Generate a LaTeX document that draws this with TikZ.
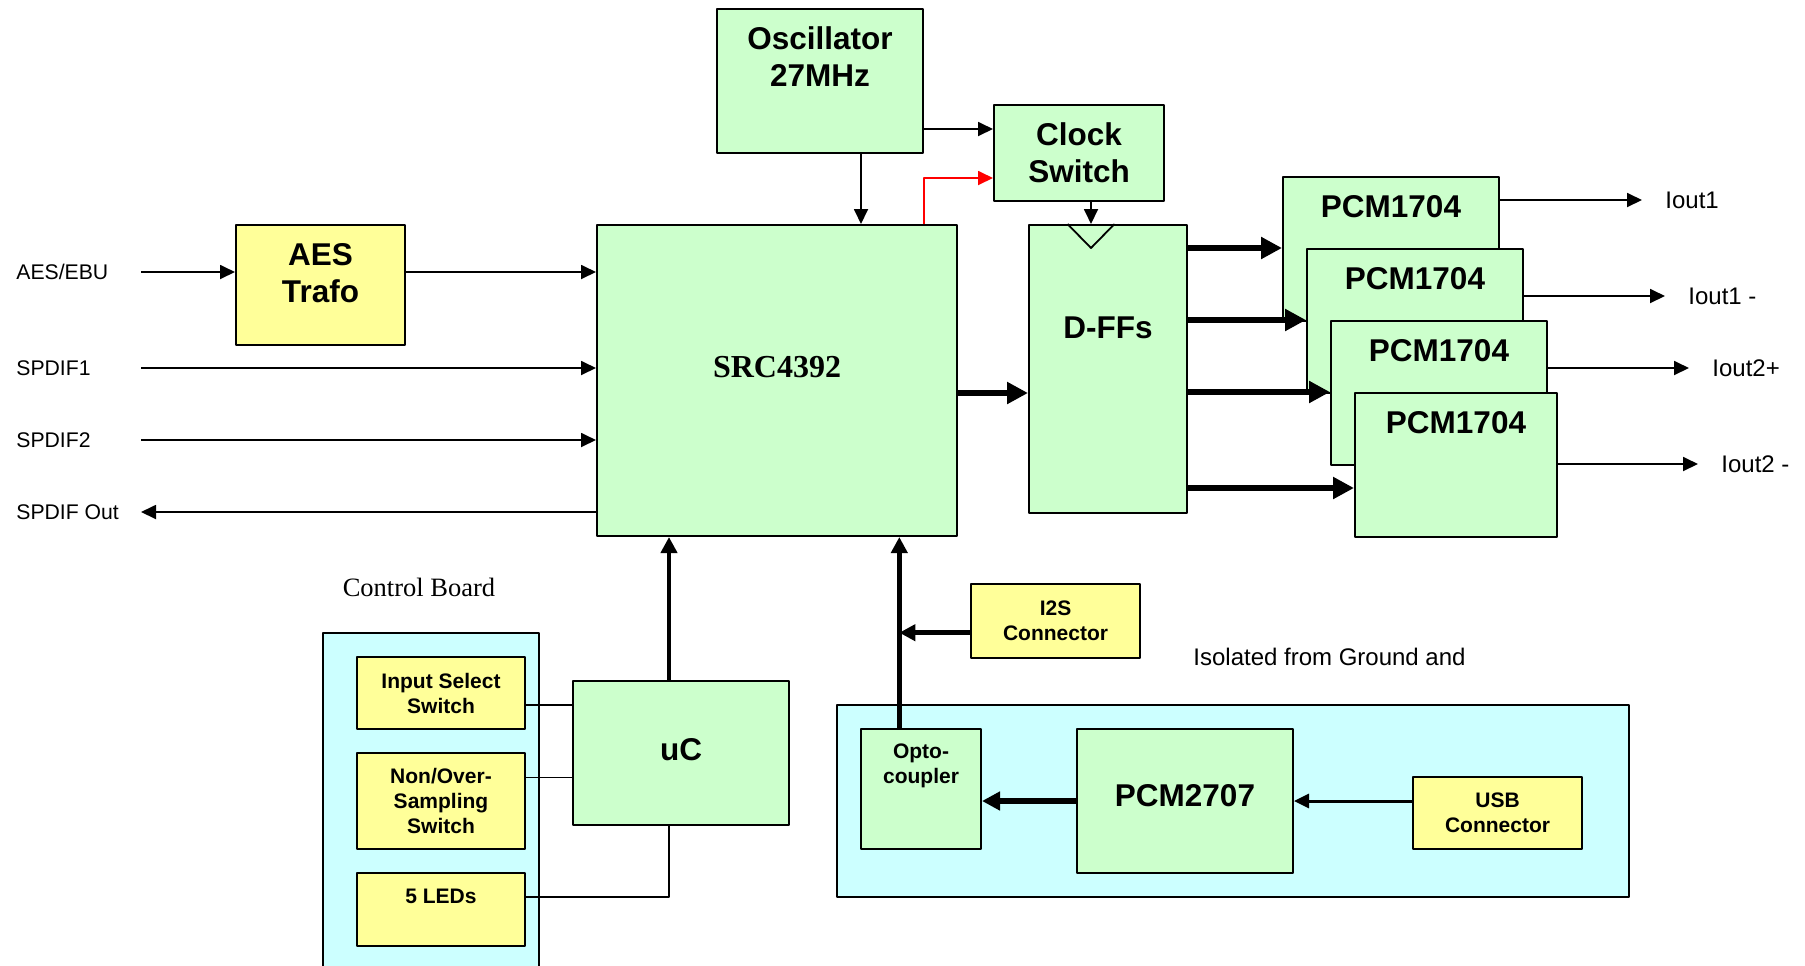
\documentclass[tikz,border=0pt]{standalone}
\usepackage{fontspec}
\setmainfont{Liberation Sans}
\newfontfamily\timesfont{Liberation Serif}
\usetikzlibrary{arrows.meta,positioning}

\definecolor{chipgreen}{HTML}{CCFFCC}
\definecolor{partyellow}{HTML}{FFFF99}
\definecolor{boardcyan}{HTML}{CCFFFF}

\tikzset{
  blk/.style={draw, line width=1pt, inner sep=0pt, anchor=north west},
  chip/.style={blk, fill=chipgreen},
  part/.style={blk, fill=partyellow},
  board/.style={blk, fill=boardcyan},
  wh/.style 2 args={minimum width=#1*0.5pt, minimum height=#2*0.5pt},
  big/.style={font=\bfseries\fontsize{15.75}{18.5}\selectfont, align=center, inner sep=0pt},
  small/.style={font=\bfseries\fontsize{10.5}{12.5}\selectfont, align=center},
  lbl/.style={anchor=west, inner sep=0pt},
  sig/.style={line width=0.9pt, ->},
  wire/.style={line width=0.8pt},
  bus/.style={line width=2.5pt, -{Triangle[length=8pt,width=8pt]}},
  fat/.style={line width=3.3pt, -{Triangle[length=10.5pt,width=10.5pt]}},
}

\begin{document}
\begin{tikzpicture}[
  x=0.5pt,
  y=-0.5pt,
  >={Triangle[length=7.5pt,width=7pt]},
  line join=round,
  font=\fontsize{10.6}{12}\selectfont
]
  \useasboundingbox (0,0) rectangle (1805,965);
  \clip (0,0) rectangle (1805,965);

  % main chain
  \node[part, wh={169}{120}] (aes) at (235,224) {};
  \node[big] (aesT) at ([yshift=5.75pt]aes.center) {AES\\Trafo};
  \node[chip, wh={360}{311}] (src) at (596,224) {};
  \node[font=\timesfont\bfseries\fontsize{16}{18}\selectfont, inner sep=0pt]
    (srcT) at ([yshift=6.75pt]src.center) {SRC4392};
  \node[chip, wh={206}{144}] (osc) at (716,8) {};
  \node[big] (oscT) at ([yshift=12pt]osc.center) {Oscillator\\27MHz};
  \node[chip, wh={170}{96}, big] (clk) at (993,104) {Clock\\Switch};
  \node[chip, wh={158}{288}] (dff) at (1028,224) {};
  \node[big] (dffT) at ([yshift=20.6pt]dff.center) {D-FFs};

  \foreach \i/\xx/\yy/\ww in {1/1282/176/216, 2/1306/248/216,
                               3/1330/320/216, 4/1354/392/202} {
    \node[chip, wh={\ww}{144}] (pcm\i) at (\xx,\yy) {};
    \node[big] (pcmT\i) at ([yshift=21pt]pcm\i.center) {PCM1704};
  }

  % inputs on the left
  \node[lbl] (aesin) at (16,272) {AES/EBU};
  \node[lbl] (sp1) at (16,368) {SPDIF1};
  \node[lbl] (sp2) at (16,440) {SPDIF2};
  \node[lbl] (spo) at (16,512) {SPDIF Out};
  \coordinate (in1) at (141,272);
  \coordinate (in2) at (141,368);
  \coordinate (in3) at (141,440);
  \coordinate (out0) at (141,512);
  \draw[sig] (in1) -- (in1 -| aes.west);
  \draw[sig] (in1 -| aes.east) -- (in1 -| src.west);
  \draw[sig] (in2) -- (in2 -| src.west);
  \draw[sig] (in3) -- (in3 -| src.west);
  \draw[sig] (out0 -| src.west) -- (out0);

  % clock
  \coordinate (ca) at ([yshift=12pt]clk.west);
  \coordinate (cb) at ([yshift=-12.5pt]clk.west);
  \coordinate (oa) at ([xshift=20.5pt]osc.south);
  \coordinate (ck) at ([xshift=-8.5pt]dff.north);
  \draw[sig] (ca -| osc.east) -- (ca);
  \draw[sig, red] (src.north -| osc.east) |- (cb);
  \draw[sig] (oa) -- (oa |- src.north);
  \draw[sig] (clk.south -| ck) -- (ck);
  \draw[line width=0.9pt] ([xshift=-11.75pt]ck) -- ([yshift=-12pt]ck)
    -- ([xshift=11.75pt]ck);

  % data to the DACs
  \coordinate (sd) at ([yshift=-6.25pt]src.east);
  \draw[fat] (sd) -- (sd -| dff.west);
  \foreach \i/\yy in {1/248, 2/320, 3/392, 4/488} {
    \coordinate (d\i) at (1186,\yy);
    \draw[fat] (d\i) -- (d\i -| pcm\i.west);
  }
  \foreach \i/\lx/\yy/\txt in {1/1665/200/Iout1, 2/1688/296/{Iout1 -},
                                3/1712/368/Iout2+, 4/1721/464/{Iout2 -}} {
    \node[lbl, font=\fontsize{12}{14}\selectfont] (out\i) at (\lx,\yy) {\txt};
    \draw[sig] (pcm\i.east |- out\i) -- ([xshift=-11.5pt]out\i.west);
  }

  % control board
  \node[font=\timesfont\fontsize{13.25}{15}\selectfont] (ctrlT) at (419,587) {Control Board};
  \node[board, wh={216}{360}] (ctrl) at (322,632) {};
  \node[part, wh={168}{72}, small] (isw) at (356,656) {Input Select\\Switch};
  \node[part, wh={168}{96}, small] (nsw) at (356,752) {Non/Over-\\Sampling\\Switch};
  \node[part, wh={168}{73}] (led) at (356,872) {};
  \node[small] (ledT) at ([yshift=6.75pt]led.center) {5 LEDs};
  \node[chip, wh={216}{144}] (uc) at (572,680) {};
  \node[big] (ucT) at ([yshift=1.85pt]uc.center) {uC};
  \coordinate (w1) at ([yshift=-6pt]isw.east);
  \coordinate (w2) at ([yshift=11.75pt]nsw.east);
  \coordinate (w3) at ([yshift=6.15pt]led.east);
  \coordinate (ucb) at ([xshift=-6pt]uc.south);
  \coordinate (uct) at ([xshift=-6pt]uc.north);
  \draw[wire] (w1) -- (w1 -| uc.west);
  \draw[wire] (w2) -- (w2 -| uc.west);
  \draw[wire] (w3) -| (ucb);
  \draw[bus, line width=2.25pt] (uct) -- (uct |- src.south);

  % isolated USB part
  \node[part, wh={169}{74}, small] (i2s) at (970,583) {I2S\\Connector};
  \node[lbl, font=\fontsize{12}{14}\selectfont] (isoT) at (1193,657) {Isolated from Ground and};
  \node[board, wh={792}{192}] (iso) at (836,704) {};
  \node[chip, wh={120}{120}] (opto) at (860,728) {};
  \node[small] (optoT) at ([yshift=11.5pt]opto.center) {Opto-\\coupler};
  \node[chip, wh={216}{144}] (pcm2) at (1076,728) {};
  \node[big] (pcm2T) at ([yshift=2.65pt]pcm2.center) {PCM2707};
  \node[part, wh={169}{72}, small] (usb) at (1412,776) {USB\\Connector};
  \coordinate (opt) at ([xshift=-10.85pt]opto.north);
  \coordinate (i2sa) at ([yshift=-5.85pt]i2s.west);
  \coordinate (ua) at ([yshift=6pt]usb.west);
  \draw[bus] (opt) -- (opt |- src.south);
  \draw[bus] (i2sa) -- (i2sa -| opt);
  \draw[bus, line width=3pt, -{Triangle[length=9pt,width=9pt]}] (pcm2.west) -- (pcm2.west -| opto.east);
  \draw[sig, line width=1.5pt] (ua) -- (ua -| pcm2.east);
\end{tikzpicture}
\end{document}
